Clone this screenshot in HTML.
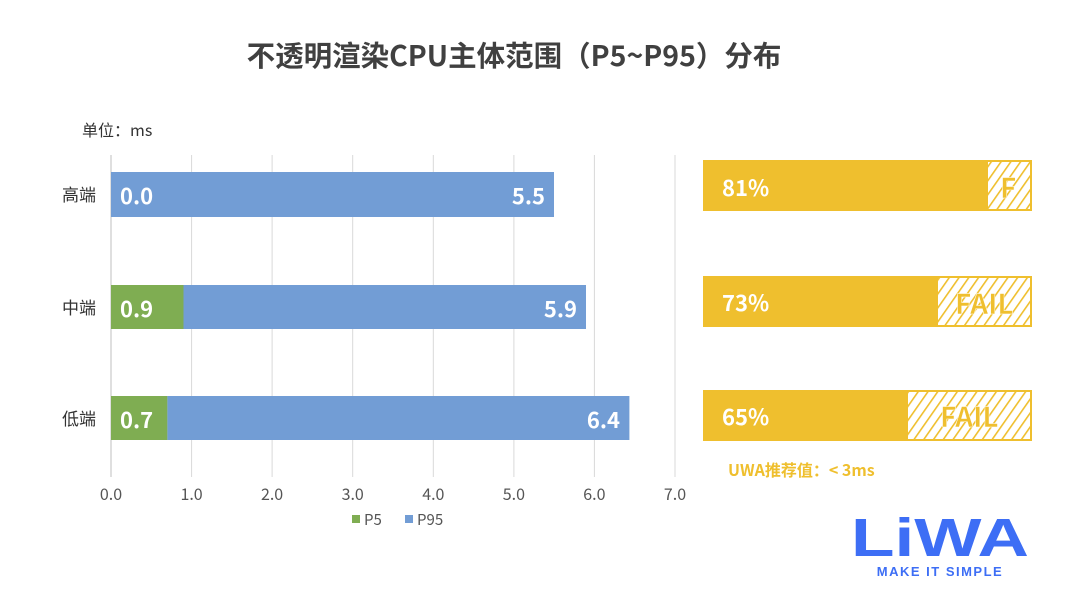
<!DOCTYPE html>
<html><head><meta charset="utf-8"><style>
body{margin:0;width:1080px;height:602px;background:#fff;overflow:hidden;font-family:"Noto Sans CJK SC","Liberation Sans",sans-serif;}
</style></head><body>
<svg width="1080" height="602" xmlns="http://www.w3.org/2000/svg" font-family="Noto Sans CJK SC, Liberation Sans, sans-serif">
<defs>
<pattern id="h" width="8" height="8" patternUnits="userSpaceOnUse" patternTransform="rotate(35)">
<rect width="8" height="8" fill="#fff"/><rect width="1.6" height="8" fill="#efbf2e"/>
</pattern>
</defs>
<text x="514" y="66" text-anchor="middle" font-size="28.5" font-weight="bold" fill="#404040">不透明渲染CPU主体范围（P5~P95）分布</text>
<text x="82" y="136" font-size="16" fill="#333">单位：ms</text>
<g stroke="#d9d9d9" stroke-width="1">
<line x1="191.6" y1="155" x2="191.6" y2="477"/><line x1="272.1" y1="155" x2="272.1" y2="477"/>
<line x1="352.7" y1="155" x2="352.7" y2="477"/><line x1="433.3" y1="155" x2="433.3" y2="477"/>
<line x1="513.9" y1="155" x2="513.9" y2="477"/><line x1="594.4" y1="155" x2="594.4" y2="477"/>
<line x1="675" y1="155" x2="675" y2="477"/>
<line x1="111" y1="155" x2="111" y2="477" stroke="#bfbfbf"/>
</g>
<rect x="111" y="172" width="443" height="45" fill="#729dd5"/>
<rect x="111" y="285" width="72.5" height="44" fill="#7fad52"/>
<rect x="183.5" y="285" width="402.5" height="44" fill="#729dd5"/>
<rect x="111" y="396" width="56.4" height="44" fill="#7fad52"/>
<rect x="167.4" y="396" width="462" height="44" fill="#729dd5"/>
<g font-size="22" font-weight="bold" fill="#fff">
<text x="120" y="204">0.0</text><text x="545" y="204" text-anchor="end">5.5</text>
<text x="120" y="317">0.9</text><text x="577" y="317" text-anchor="end">5.9</text>
<text x="120" y="428">0.7</text><text x="620" y="428" text-anchor="end">6.4</text>
</g>
<g font-size="17" fill="#333" text-anchor="end">
<text x="96" y="201">高端</text><text x="96" y="314">中端</text><text x="96" y="425">低端</text>
</g>
<g font-size="16" fill="#555" text-anchor="middle">
<text x="111" y="500">0.0</text><text x="191.6" y="500">1.0</text><text x="272.1" y="500">2.0</text>
<text x="352.7" y="500">3.0</text><text x="433.3" y="500">4.0</text><text x="513.9" y="500">5.0</text>
<text x="594.4" y="500">6.0</text><text x="675" y="500">7.0</text>
</g>
<rect x="352" y="515" width="8" height="8" fill="#7fad52"/><text x="364" y="525" font-size="15" fill="#555">P5</text>
<rect x="405" y="515" width="8" height="8" fill="#729dd5"/><text x="417" y="525" font-size="15" fill="#555">P95</text>
<g stroke="#efbf2e" stroke-width="2">
<rect x="704" y="161" width="327" height="49" fill="url(#h)"/>
<rect x="704" y="277" width="327" height="49" fill="url(#h)"/>
<rect x="704" y="391" width="327" height="49" fill="url(#h)"/>
</g>
<rect x="704" y="161" width="284" height="49" fill="#efbf2e"/>
<rect x="704" y="277" width="234" height="49" fill="#efbf2e"/>
<rect x="704" y="391" width="204" height="49" fill="#efbf2e"/>
<g font-size="22" font-weight="bold" fill="#fff">
<text x="722" y="196">81%</text><text x="722" y="311">73%</text><text x="722" y="425">65%</text>
</g>
<g font-size="28" font-weight="bold" fill="#efbf2e" stroke="#fff" stroke-width="0.5">
<text x="1000" y="198">F</text><text x="955" y="314">FAIL</text><text x="940" y="427">FAIL</text>
</g>
<text x="728" y="476" font-size="16" font-weight="bold" fill="#efbf2e">UWA推荐值：&lt; 3ms</text>
<text x="851" y="556" textLength="178" lengthAdjust="spacingAndGlyphs" font-size="54" font-weight="bold" fill="#3d6ef5" font-family="Liberation Sans, sans-serif">LiWA</text>
<text x="940" y="576" text-anchor="middle" font-size="13" font-weight="bold" fill="#3d6ef5" letter-spacing="1.5" font-family="Liberation Sans, sans-serif">MAKE IT SIMPLE</text>
</svg>
</body></html>
